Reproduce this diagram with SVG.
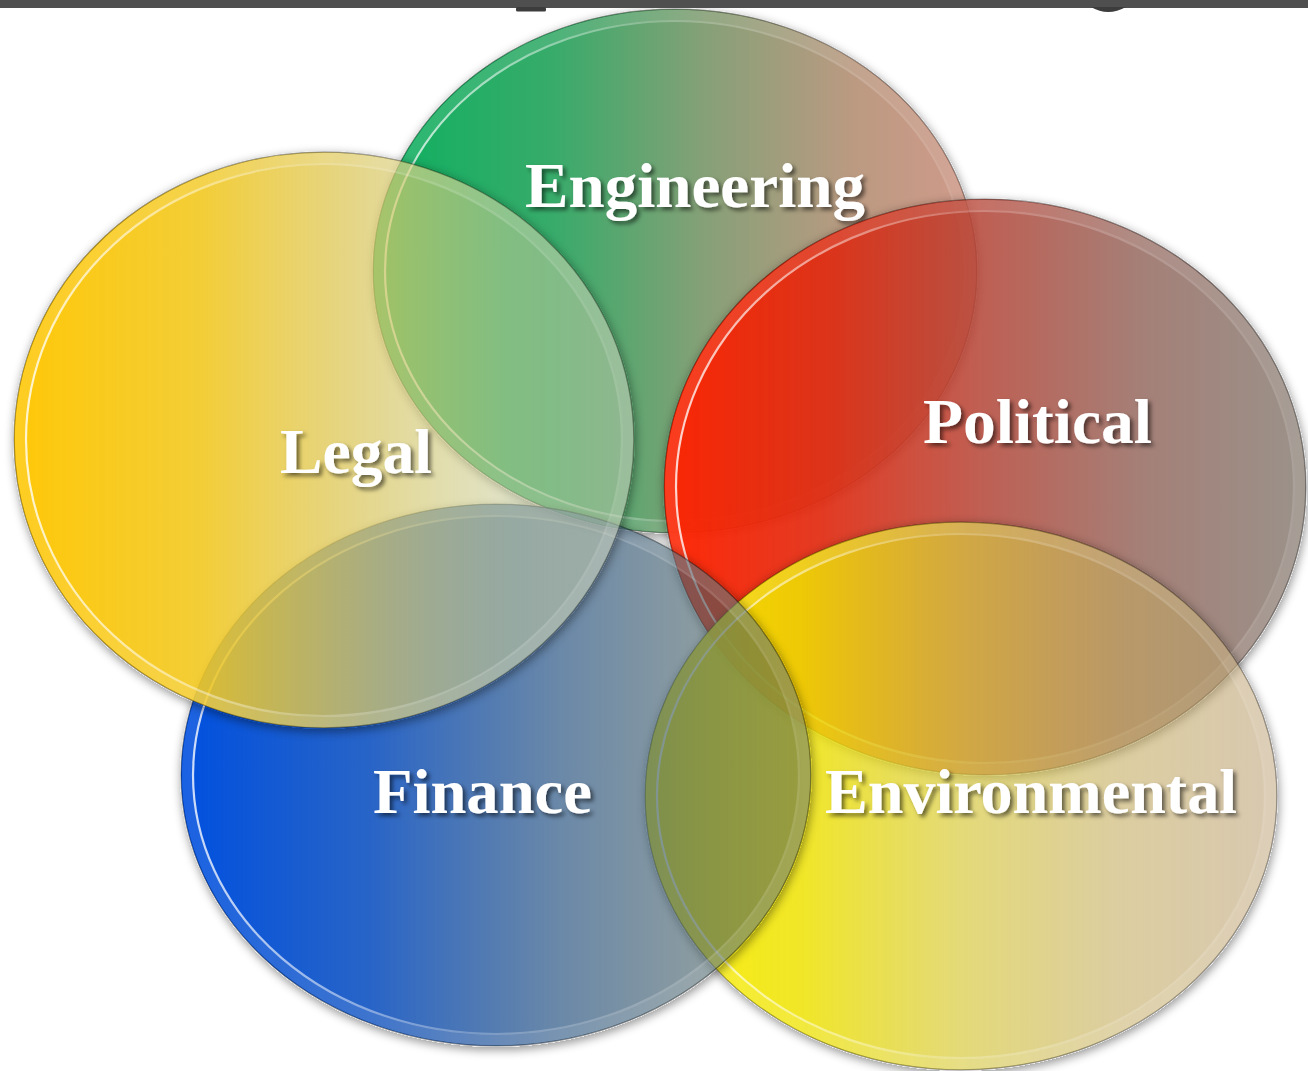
<svg xmlns="http://www.w3.org/2000/svg" width="1308" height="1071" viewBox="0 0 1308 1071">
<style>
.lbl{font-family:"Liberation Serif","DejaVu Serif",serif;font-weight:bold;font-size:63px;fill:#ffffff;filter:url(#tsh)}
.edge{fill:none;stroke:#000;stroke-opacity:0.35;stroke-width:1.5}
.band{fill:none;stroke:#fff;stroke-opacity:0.1;stroke-width:10}
.hl{fill:none;stroke:url(#hlg);stroke-width:2.2}
</style>
<defs>
<filter id="sh" x="-8%" y="-8%" width="116%" height="120%" color-interpolation-filters="sRGB">
  <feComponentTransfer in="SourceAlpha" result="A"><feFuncA type="linear" slope="20"/></feComponentTransfer>
  <feGaussianBlur in="A" stdDeviation="5" result="B"/>
  <feOffset in="B" dx="1" dy="3" result="C"/>
  <feFlood flood-color="#000" flood-opacity="0.4" result="F"/>
  <feComposite in="F" in2="C" operator="in" result="S"/>
  <feComposite in="S" in2="A" operator="out" result="SO"/>
  <feMerge><feMergeNode in="SO"/><feMergeNode in="SourceGraphic"/></feMerge>
</filter>
<filter id="tsh" x="-10%" y="-20%" width="125%" height="150%">
  <feDropShadow dx="3" dy="3" stdDeviation="2" flood-color="#000" flood-opacity="0.55"/>
</filter>
<linearGradient id="hlg" x1="0" y1="0" x2="1" y2="0">
  <stop offset="0" stop-color="#fff" stop-opacity="0.8"/>
  <stop offset="0.45" stop-color="#fff" stop-opacity="0.25"/>
  <stop offset="1" stop-color="#fff" stop-opacity="0.15"/>
</linearGradient>
<linearGradient id="gEng" x1="0" y1="0" x2="1" y2="0">
  <stop offset="0" stop-color="#0cb060"/>
  <stop offset="0.3" stop-color="#38ab6a"/>
  <stop offset="0.55" stop-color="#86a077"/>
  <stop offset="0.8" stop-color="#bc9a82"/>
  <stop offset="1" stop-color="#d09a8a"/>
</linearGradient>
<linearGradient id="gPol" x1="0" y1="0" x2="1" y2="0">
  <stop offset="0" stop-color="#ff2200" stop-opacity="0.97"/>
  <stop offset="0.25" stop-color="#e02a10" stop-opacity="0.92"/>
  <stop offset="0.5" stop-color="#b34436" stop-opacity="0.85"/>
  <stop offset="0.75" stop-color="#946a60" stop-opacity="0.85"/>
  <stop offset="1" stop-color="#897f75" stop-opacity="0.85"/>
</linearGradient>
<linearGradient id="gEnv" x1="0" y1="0" x2="1" y2="0">
  <stop offset="0" stop-color="#faf000" stop-opacity="0.95"/>
  <stop offset="0.25" stop-color="#eee202" stop-opacity="0.85"/>
  <stop offset="0.5" stop-color="#d8ca3e" stop-opacity="0.7"/>
  <stop offset="0.75" stop-color="#c5ad61" stop-opacity="0.6"/>
  <stop offset="1" stop-color="#b89b6f" stop-opacity="0.55"/>
</linearGradient>
<linearGradient id="gFin" x1="0" y1="0" x2="1" y2="0">
  <stop offset="0" stop-color="#0050e0"/>
  <stop offset="0.3" stop-color="#0249be" stop-opacity="0.85"/>
  <stop offset="0.6" stop-color="#2a5583" stop-opacity="0.7"/>
  <stop offset="0.85" stop-color="#445d61" stop-opacity="0.6"/>
  <stop offset="1" stop-color="#526152" stop-opacity="0.55"/>
</linearGradient>
<linearGradient id="gLeg" x1="0" y1="0" x2="1" y2="0">
  <stop offset="0" stop-color="#ffc600" stop-opacity="0.97"/>
  <stop offset="0.3" stop-color="#f2c820" stop-opacity="0.9"/>
  <stop offset="0.55" stop-color="#dcc860" stop-opacity="0.75"/>
  <stop offset="0.8" stop-color="#c8cc98" stop-opacity="0.55"/>
  <stop offset="1" stop-color="#c0c8b0" stop-opacity="0.5"/>
</linearGradient>
</defs>

<rect x="0" y="0" width="1308" height="1071" fill="#ffffff"/>

<g id="engineering">
  <g filter="url(#sh)">
    <ellipse cx="675" cy="271" rx="302" ry="262" fill="url(#gEng)"/>
    <ellipse class="band" cx="675" cy="271" rx="296" ry="256"/>
    <ellipse class="hl" cx="675" cy="271" rx="290" ry="250"/>
    <ellipse class="edge" cx="675" cy="271" rx="302" ry="262"/>
  </g>
  <text class="lbl" x="525" y="207" textLength="340" lengthAdjust="spacingAndGlyphs">Engineering</text>
</g>

<g id="political">
  <g filter="url(#sh)">
    <ellipse cx="985" cy="487" rx="321" ry="288" fill="url(#gPol)"/>
    <ellipse class="band" cx="985" cy="487" rx="315" ry="282"/>
    <ellipse class="hl" cx="985" cy="487" rx="309" ry="276"/>
    <ellipse class="edge" cx="985" cy="487" rx="321" ry="288"/>
  </g>
  <text class="lbl" x="923" y="443" textLength="229" lengthAdjust="spacingAndGlyphs">Political</text>
</g>

<g id="environmental">
  <g filter="url(#sh)">
    <ellipse cx="961" cy="796" rx="316" ry="274" fill="url(#gEnv)"/>
    <ellipse class="band" cx="961" cy="796" rx="310" ry="268"/>
    <ellipse class="hl" cx="961" cy="796" rx="304" ry="262"/>
    <ellipse class="edge" cx="961" cy="796" rx="316" ry="274"/>
  </g>
  <text class="lbl" x="825" y="813" textLength="412" lengthAdjust="spacingAndGlyphs">Environmental</text>
</g>

<g id="finance">
  <g filter="url(#sh)">
    <ellipse cx="496" cy="775" rx="315" ry="271" fill="url(#gFin)"/>
    <ellipse class="band" cx="496" cy="775" rx="309" ry="265"/>
    <ellipse class="hl" cx="496" cy="775" rx="303" ry="259"/>
    <ellipse class="edge" cx="496" cy="775" rx="315" ry="271"/>
  </g>
  <text class="lbl" x="373" y="813" textLength="219" lengthAdjust="spacingAndGlyphs">Finance</text>
</g>

<g id="legal">
  <g filter="url(#sh)">
    <ellipse cx="324" cy="440" rx="310" ry="288" fill="url(#gLeg)"/>
    <ellipse class="band" cx="324" cy="440" rx="304" ry="282"/>
    <ellipse class="hl" cx="324" cy="440" rx="298" ry="276"/>
    <ellipse class="edge" cx="324" cy="440" rx="310" ry="288"/>
  </g>
  <text class="lbl" x="280" y="473" textLength="152" lengthAdjust="spacingAndGlyphs">Legal</text>
</g>

<g id="connectors"/>

<g id="top-bar">
  <rect x="0" y="0" width="1308" height="8" fill="#4f4f4f"/>
  <rect x="516" y="7" width="30" height="4.5" rx="1.5" fill="#3c3c3c"/>
  <path d="M1091,7 Q1108,17 1126,7 Z" fill="#3c3c3c"/>
</g>
</svg>
